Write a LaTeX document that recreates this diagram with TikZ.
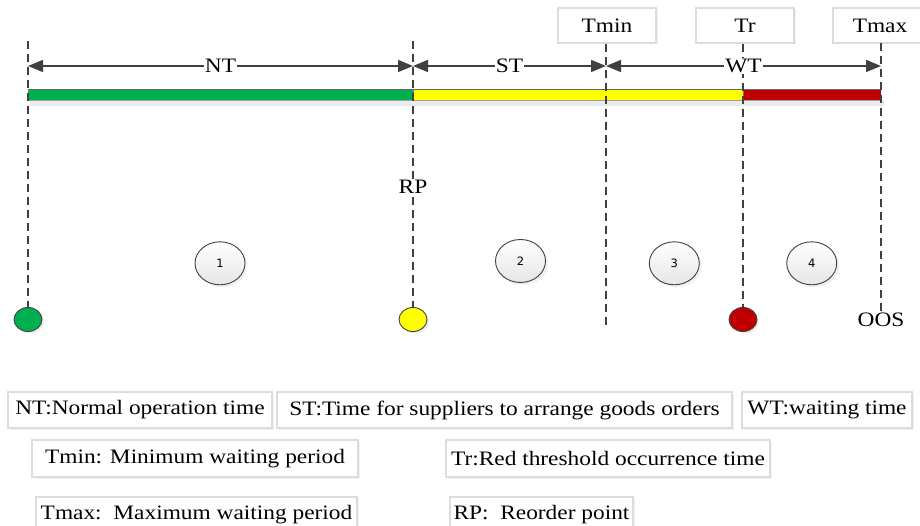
\documentclass[tikz,border=0pt]{standalone}
\usepackage{fontspec}
\setmainfont{Liberation Serif}[FakeStretch=1.14]
\newfontfamily\numfont{DejaVu Sans}
\usetikzlibrary{arrows.meta,shadows,shapes.geometric}
\definecolor{dgray}{HTML}{404040}
\definecolor{boxgray}{HTML}{DCDCDC}
\definecolor{mgreen}{HTML}{00B050}
\definecolor{myellow}{HTML}{FFFF00}
\definecolor{mred}{HTML}{C00000}
\tikzset{
  txt/.style={font=\fontsize{20.5}{24}\selectfont},
  lbox/.style={txt, draw=boxgray, line width=1.2pt, fill=white, inner sep=0pt,
     drop shadow={shadow xshift=1.5pt, shadow yshift=-1.5pt, opacity=0.12}},
  dashline/.style={draw=dgray, line width=1.5pt, dash pattern=on 8pt off 5pt},
  dimarrow/.style={draw=dgray, line width=1.6pt, {Triangle[length=15pt,width=12pt]}-{Triangle[length=15pt,width=12pt]}},
  lbl/.style={txt, fill=white, inner sep=1pt},
  marker/.style={ellipse, draw=dgray, line width=0.9pt, minimum width=28pt, minimum height=24pt, inner sep=0pt,
     drop shadow={shadow xshift=2pt, shadow yshift=-2pt, opacity=0.15}},
  numell/.style={ellipse, draw=dgray, line width=0.9pt, minimum width=50pt, minimum height=43pt, inner sep=0pt,
     top color=white, bottom color=black!10, font=\numfont\fontsize{11.5}{13}\selectfont,
     drop shadow={shadow xshift=2.5pt, shadow yshift=-2.5pt, opacity=0.12}},
}
\begin{document}
\begin{tikzpicture}[x=1pt,y=-1pt]
\useasboundingbox (0,0) rectangle (920,526);

% top boxes
\node[lbox, minimum width=98pt, minimum height=35pt] (tmin) at (607,25.5) {Tmin};
\node[lbox, minimum width=98pt, minimum height=35pt] (tr) at (745,25.5) {Tr};
\node[lbox, minimum width=100pt, minimum height=35pt] (tmax) at (883,25.5) {\hspace*{-6pt}Tmax};

% bar shadow and bar
\fill[black!8] (30,100) rectangle (884,106);
\fill[mgreen] (28,89.5) rectangle (413,100);
\fill[myellow] (413,89.5) rectangle (743,100);
\fill[mred] (743,89.5) rectangle (881,100);
\draw[dgray!80, line width=0.8pt] (28,89.5) -- (881,89.5);
\draw[dgray!50, line width=0.5pt] (28,100) -- (881,100);
\draw[dgray!70, line width=0.6pt] (413,89.5) -- (413,100) (743,89.5) -- (743,100);

% markers
\node[marker, fill=mgreen] (mg) at (28,319.5) {};
\node[marker, fill=myellow] (my) at (413,319.5) {};
\node[marker, fill=mred] (mr) at (743,319.5) {};
\node[txt, inner sep=0pt, anchor=north] (oos) at (881,313) {OOS};
\coordinate (tminend) at (606,329);

% line tops
\coordinate (t0) at (28,41);
\coordinate (t1) at (413,41);

% vertical dashed lines
\draw[dashline] (t0) -- (mg.north);
\draw[dashline] (t1) -- (my.north);
\draw[dashline] (tmin.south) ++(-1,0) -- (tminend);
\draw[dashline] (tr.south) ++(-2,0) coordinate (trtop) -- (mr.north);
\draw[dashline] (881,43) coordinate (tmaxtop) -- (oos.north);
\node[lbl] (rp) at (413,187) {RP};

% dimension arrows
\coordinate (d0) at (28,66);
\coordinate (d1) at (413,66);
\coordinate (d2) at (606,66);
\coordinate (d3) at (881,66);
\draw[dimarrow] (d0) -- node[lbl] (nt) {NT} (d1);
\draw[dimarrow] (d1) -- node[lbl] (st) {ST} (d2);
\draw[dimarrow] (d2) -- node[lbl] (wt) {WT} (d3);

% numbered ellipses
\node[numell] (e1) at (220,263.3) {1};
\node[numell] (e2) at (520.5,261) {2};
\node[numell] (e3) at (674.3,263.3) {3};
\node[numell] (e4) at (811.7,263.3) {4};

% legend
\node[lbox, minimum width=264pt, minimum height=36pt] (lnt) at (140,410) {NT:Normal operation time};
\node[lbox, minimum width=455pt, minimum height=36pt] (lst) at (504.5,410) {ST:Time for suppliers to arrange goods orders};
\node[lbox, minimum width=170pt, minimum height=36pt] (lwt) at (827,410) {WT:waiting time};
\node[lbox, minimum width=326pt, minimum height=37pt] (ltmin) at (195,458.5) {Tmin: Minimum waiting period};
\node[lbox, minimum width=324pt, minimum height=37pt] (ltr) at (608,458.5) {Tr:Red threshold occurrence time};
\node[lbox, minimum width=321pt, minimum height=36pt] (ltmax) at (196.5,515) {Tmax:\ \ Maximum waiting period};
\node[lbox, minimum width=183pt, minimum height=36pt] (lrp) at (541.5,515) {RP:\ \ Reorder point};
\end{tikzpicture}
\end{document}
